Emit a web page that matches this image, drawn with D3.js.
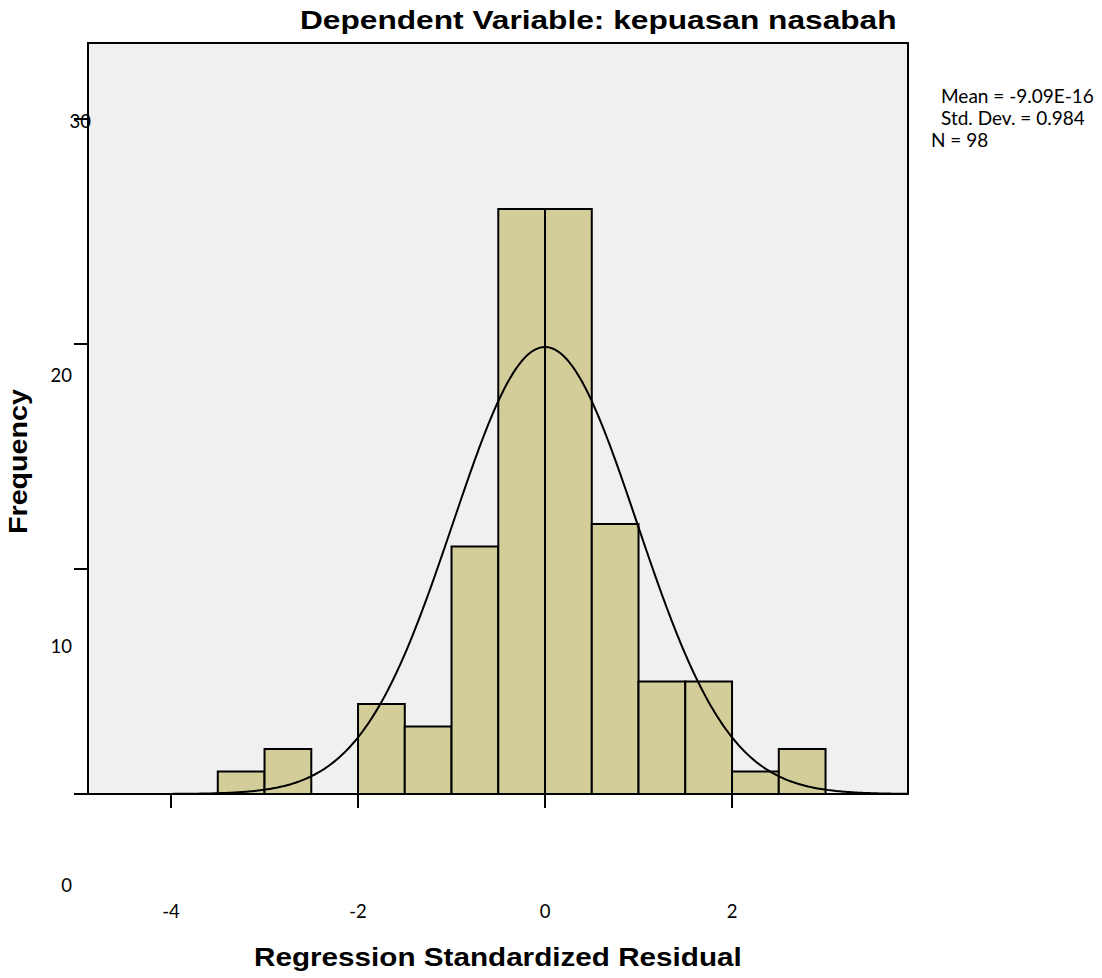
<!DOCTYPE html>
<html><head><meta charset="utf-8">
<script src="https://cdn.jsdelivr.net/npm/d3@7"></script>
<style>body{margin:0;background:#fff}</style>
</head><body><svg id="c" width="1102" height="978"></svg>
<script>
const binStarts = [-3.5,-3,-2.5,-2,-1.5,-1,-0.5,0,0.5,1,1.5,2,2.5];
const counts    = [1,2,0,4,3,11,26,26,12,5,5,1,2];
const binWidth = 0.5;
const mean = -9.09e-16, sd = 0.984, N = 98;
const xTicks = [-4,-2,0,2];
const yTicks = [10,20,30];
const yTickLabels = ["0","10","20","30"];
const statsLines = ["Mean = -9.09E-16","Std. Dev. = 0.984","N = 98"];

const svg = d3.select("#c");
const L=88,R=908,T=43,B=794;
const x = d3.scaleLinear().domain([-4.888,3.882]).range([L,R]);
const y = d3.scaleLinear().domain([0,1]).range([B,B-22.5]);

svg.append("rect").attr("x",L).attr("y",T).attr("width",R-L).attr("height",B-T)
  .attr("fill","#f0f0f0").attr("stroke","#000").attr("stroke-width",2);

svg.selectAll("rect.bar").data(binStarts.map((s,i)=>({s,c:counts[i]})).filter(d=>d.c>0))
  .join("rect").attr("class","bar")
  .attr("x",d=>x(d.s)).attr("width",d=>x(d.s+binWidth)-x(d.s))
  .attr("y",d=>y(d.c)).attr("height",d=>y(0)-y(d.c))
  .attr("fill","#d3cd99").attr("stroke","#000").attr("stroke-width",2);

// normal curve
const pts = d3.range(-4.888,3.882,0.02).map(v=>[v, N*binWidth*Math.exp(-0.5*((v-mean)/sd)**2)/(sd*Math.sqrt(2*Math.PI))]);
svg.append("path").attr("d",d3.line().x(d=>x(d[0])).y(d=>y(d[1]))(pts))
  .attr("fill","none").attr("stroke","#000").attr("stroke-width",2);

// axes lines
svg.append("line").attr("x1",74).attr("x2",R).attr("y1",B).attr("y2",B).attr("stroke","#000").attr("stroke-width",2);
svg.append("line").attr("x1",L).attr("x2",L).attr("y1",T).attr("y2",B).attr("stroke","#000").attr("stroke-width",2);
svg.selectAll("line.xt").data(xTicks).join("line").attr("class","xt")
  .attr("x1",d=>x(d)).attr("x2",d=>x(d)).attr("y1",B).attr("y2",B+14).attr("stroke","#000").attr("stroke-width",2);
svg.selectAll("line.yt").data(yTicks).join("line").attr("class","yt")
  .attr("x1",74).attr("x2",L).attr("y1",d=>y(d)).attr("y2",d=>y(d)).attr("stroke","#000").attr("stroke-width",2);

const tf = "Lato, 'Open Sans', sans-serif";
svg.selectAll("text.xl").data(xTicks).join("text").attr("class","xl")
  .attr("x",d=>x(d)).attr("y",918).attr("text-anchor","middle")
  .attr("font-family",tf).attr("font-size",18.5).text(d=>d);

// y tick labels (placed as in the exported reference, offset from ticks)
const yLabelPos = [[72,892],[72,653],[72,382],[91,128]];
svg.selectAll("text.yl").data(yTickLabels).join("text").attr("class","yl")
  .attr("x",(d,i)=>yLabelPos[i][0]).attr("y",(d,i)=>yLabelPos[i][1]).attr("text-anchor","end")
  .attr("font-family",tf).attr("font-size",18.5).text(d=>d);

const bf = "'Liberation Sans', Arial, sans-serif";
function stretched(txt, x0, base, size, width, rotate){
  const g = svg.append("g").attr("transform", `translate(${x0},${base})` + (rotate?" rotate(-90)":""));
  const t = g.append("text").attr("font-family",bf).attr("font-weight","bold").attr("font-size",size).text(txt);
  const w = t.node().getComputedTextLength();
  t.attr("transform",`scale(${width/w},1)`);
}
stretched("Dependent Variable: kepuasan nasabah", 300, 29, 26.5, 597);
stretched("Regression Standardized Residual", 254, 966, 25, 488);
stretched("Frequency", 27, 534, 26, 145, true);

const sx = [941,941,931];
svg.selectAll("text.st").data(statsLines).join("text").attr("class","st")
  .attr("x",(d,i)=>sx[i]).attr("y",(d,i)=>103+i*22)
  .attr("font-family",tf).attr("font-size",19).text(d=>d);
</script></body></html>
